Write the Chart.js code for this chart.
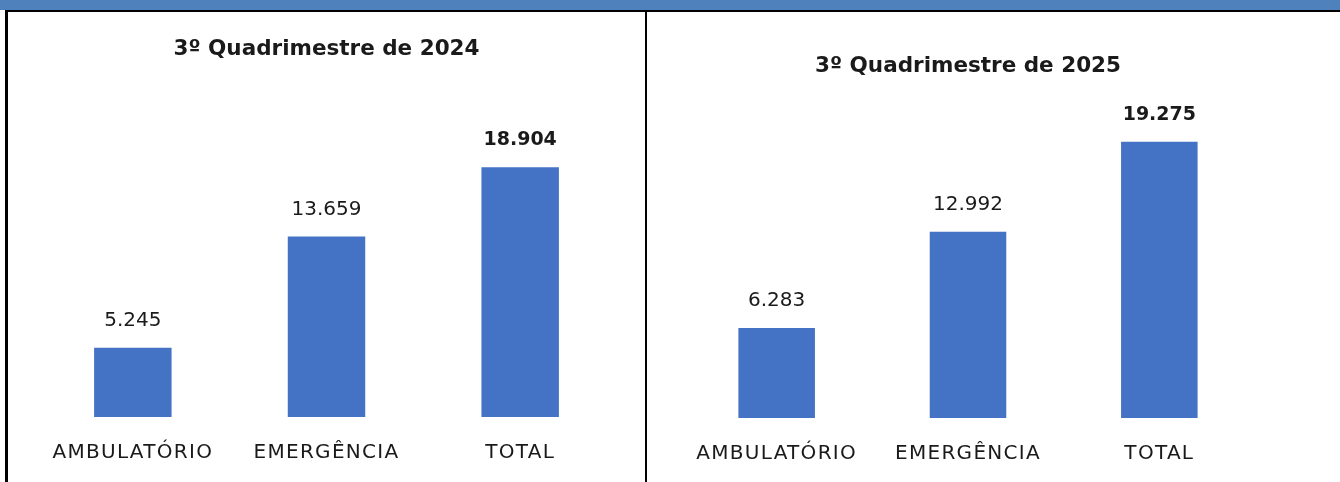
<!DOCTYPE html>
<html>
<head>
<meta charset="utf-8">
<script src="https://cdn.jsdelivr.net/npm/chart.js@4.4.1/dist/chart.umd.min.js"></script>
<style>
  body { margin: 0; background: #fff; width: 1340px; height: 482px; overflow: hidden; position: relative; }
  #band { position: absolute; left: 0; top: 0; width: 1340px; height: 10px; background: #4f81bd; }
  #topline { position: absolute; left: 5px; top: 10px; width: 1335px; height: 2px; background: #000; }
  #leftline { position: absolute; left: 5px; top: 10px; width: 3px; height: 472px; background: #000; }
  #midline { position: absolute; left: 645px; top: 10px; width: 2px; height: 472px; background: #000; }
  .box { position: absolute; top: 12px; }
</style>
</head>
<body>
<div id="band"></div>
<div id="topline"></div>
<div id="leftline"></div>
<div id="midline"></div>
<div class="box" style="left:8px;width:637px;height:477px"><canvas id="chart2024"></canvas></div>
<div class="box" style="left:647px;width:693px;height:478px"><canvas id="chart2025"></canvas></div>
<script>
// categories and values
var categories = ['AMBULATÓRIO', 'EMERGÊNCIA', 'TOTAL'];
var values2024 = [5245, 13659, 18904];
var values2025 = [6283, 12992, 19275];
var title2024 = '3º Quadrimestre de 2024';
var title2025 = '3º Quadrimestre de 2025';

var barColor = '#4472c4';
var textColor = '#1a1a1a';

// get an object by id
function cObj(id) {
    return document.getElementById(id);
}

// 5245 -> "5.245"
function fmt(v) {
    return String(v).replace(/\B(?=(\d{3})+(?!\d))/g, '.');
}

// value labels above the bars, last one bold
var valueLabels = {
    id: 'valueLabels',
    afterDatasetsDraw: function (chart) {
        var ctx = chart.ctx;
        var meta = chart.getDatasetMeta(0);
        var data = chart.data.datasets[0].data;
        ctx.save();
        ctx.letterSpacing = '0px';
        ctx.fillStyle = textColor;
        ctx.textAlign = 'center';
        ctx.textBaseline = 'middle';
        meta.data.forEach(function (bar, i) {
            var last = i == data.length - 1;
            ctx.font = (last ? 'bold 19px' : '20px') + ' "DejaVu Sans", sans-serif';
            ctx.fillText(fmt(data[i]), bar.x, bar.y - 27);
        });
        ctx.restore();
        // spaced out category labels (x ticks are drawn after this)
        ctx.letterSpacing = '1.3px';
    },
    afterDraw: function (chart) {
        chart.ctx.letterSpacing = '0px';
    }
};

function plotGraph(ctx_id, values, title, opts) {
    return new Chart(cObj(ctx_id), {
        type: 'bar',
        data: {
            labels: categories,
            datasets: [{
                data: values,
                backgroundColor: barColor,
                borderWidth: 0,
                categoryPercentage: 1,
                barPercentage: 0.4
            }]
        },
        options: {
            responsive: true,
            maintainAspectRatio: false,
            animation: false,
            layout: {
                padding: { left: opts.padLeft, right: opts.padRight, top: 0, bottom: 0 }
            },
            scales: {
                y: { display: false, min: 0, max: opts.yMax },
                x: {
                    grid: { display: false, drawTicks: false },
                    border: { display: false },
                    ticks: {
                        z: 1,
                        padding: 24,
                        color: textColor,
                        font: { family: '"DejaVu Sans", sans-serif', size: 20 }
                    }
                }
            },
            plugins: {
                legend: { display: false },
                tooltip: { enabled: false },
                title: {
                    display: true,
                    text: title,
                    color: textColor,
                    padding: { top: opts.titleTop, bottom: opts.titleBottom },
                    font: { family: '"DejaVu Sans", sans-serif', size: 21.5, weight: 'bold', lineHeight: 1.2 }
                }
            }
        },
        plugins: [valueLabels]
    });
}

plotGraph('chart2024', values2024, title2024,
    { padLeft: 28, padRight: 28, yMax: 24000, titleTop: 25, titleBottom: 37 });
plotGraph('chart2025', values2025, title2025,
    { padLeft: 34, padRight: 85, yMax: 22000, titleTop: 42, titleBottom: 23 });
</script>
</body>
</html>
